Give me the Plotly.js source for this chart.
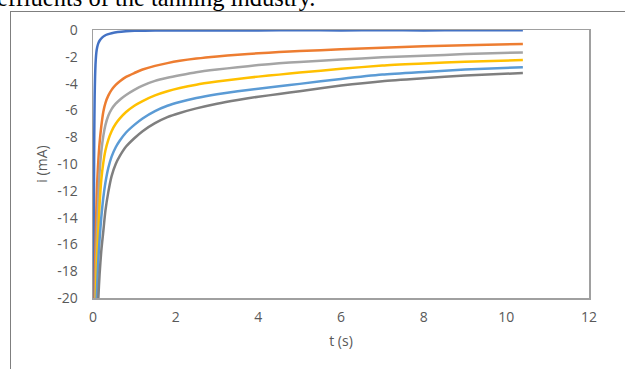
<!DOCTYPE html>
<html>
<head>
<meta charset="utf-8">
<script src="https://cdn.plot.ly/plotly-3.0.1.min.js"></script>
<style>
  html, body { margin: 0; padding: 0; width: 625px; height: 369px; overflow: hidden; background: #fff; }
  #caption { position: absolute; left: -3px; top: -14px; font-family: "Liberation Serif", "Times New Roman", serif; font-size: 24.5px; line-height: 24px; color: #000; white-space: nowrap; }
  #frame { position: absolute; left: 10px; top: 11px; width: 700px; height: 420px; border: 1px solid #7f7f7f; }
  #chart { position: absolute; left: 0; top: 0; width: 625px; height: 369px; }
</style>
</head>
<body>
<div id="frame"></div>
<div id="chart"></div>
<div id="caption">effluents of the tanning industry.</div>
<script>
// time (s) for the first (fast) curve
const tFast = [0.01, 0.015, 0.02, 0.03, 0.04, 0.05, 0.06, 0.08, 0.1, 0.13, 0.17, 0.22, 0.28, 0.35, 0.45, 0.6, 0.8, 1.0, 1.5, 2.0, 3.0, 4.0, 5.0, 6.0, 7.0, 8.0, 9.0, 10.4];
const iFast = [-24, -19, -14, -8, -5, -3.5, -2.6, -1.7, -1.3, -0.98, -0.75, -0.57, -0.43, -0.33, -0.24, -0.15, -0.09, -0.06, -0.04, -0.03, -0.03, -0.03, -0.02, -0.03, -0.02, -0.03, -0.02, -0.02];

// time (s) for the other curves
const tSlow = [0.03, 0.04, 0.05, 0.07, 0.09, 0.11, 0.13, 0.16, 0.2, 0.25, 0.3, 0.37, 0.45, 0.55, 0.65, 0.8, 1.0, 1.2, 1.5, 1.8, 2.1, 2.5, 3.0, 3.5, 4.0, 4.5, 5.0, 6.0, 7.0, 8.0, 9.0, 10.4];
const iOrange = [-26, -20, -17.5, -14.9, -12.3, -10.8, -9.7, -8.4, -7.2, -6.1, -5.45, -4.9, -4.47, -4.1, -3.83, -3.5, -3.21, -2.95, -2.68, -2.47, -2.3, -2.13, -1.97, -1.85, -1.74, -1.65, -1.57, -1.44, -1.32, -1.22, -1.13, -1.04];
const iGray   = [-30, -25, -21.5, -18.2, -15.8, -14.1, -12.6, -10.6, -9.1, -7.9, -7.1, -6.4, -5.9, -5.5, -5.2, -4.85, -4.47, -4.15, -3.8, -3.57, -3.38, -3.15, -2.95, -2.78, -2.62, -2.48, -2.38, -2.2, -2.04, -1.92, -1.8, -1.67];
const iYellow = [-34, -29, -25, -20, -17.5, -16, -14.9, -13.0, -11.2, -9.9, -9.0, -8.2, -7.55, -7.0, -6.6, -6.12, -5.65, -5.3, -4.88, -4.57, -4.33, -4.08, -3.85, -3.65, -3.48, -3.33, -3.18, -2.9, -2.65, -2.5, -2.37, -2.24];
const iLtBlue = [-38, -33, -29, -24, -20, -18.4, -17.1, -15.6, -14.0, -12.5, -11.4, -10.3, -9.45, -8.75, -8.25, -7.65, -7.08, -6.6, -6.05, -5.65, -5.37, -5.08, -4.8, -4.57, -4.38, -4.2, -4.02, -3.65, -3.33, -3.13, -2.95, -2.78];
const iDkGray = [-44, -38, -34, -29, -25, -22, -20, -18.2, -16.5, -15.0, -13.5, -12.1, -10.9, -10.0, -9.4, -8.7, -8.08, -7.55, -6.95, -6.5, -6.19, -5.85, -5.5, -5.22, -4.98, -4.78, -4.57, -4.15, -3.82, -3.6, -3.4, -3.21];

const xTicks = [0, 2, 4, 6, 8, 10, 12];
const yTicks = [0, -2, -4, -6, -8, -10, -12, -14, -16, -18, -20];

const series = [
  {x: tFast, y: iFast, color: '#4472C4'},
  {x: tSlow, y: iOrange, color: '#ED7D31'},
  {x: tSlow, y: iGray, color: '#A5A5A5'},
  {x: tSlow, y: iYellow, color: '#FFC000'},
  {x: tSlow, y: iLtBlue, color: '#5B9BD5'},
  {x: tSlow, y: iDkGray, color: '#7F7F7F'}
];

const traces = series.map(s => ({
  type: 'scatter', mode: 'lines', x: s.x, y: s.y,
  line: {color: s.color, width: 2.5, shape: 'spline', smoothing: 0.6},
  showlegend: false, hoverinfo: 'skip'
}));

const fam = '"Open Sans", "Noto Sans", sans-serif';
const tickFont = {family: fam, size: 14, color: '#595959'};

const layout = {
  width: 625, height: 369,
  margin: {l: 93, r: 36, t: 30, b: 71, pad: 0},
  paper_bgcolor: 'rgba(0,0,0,0)', plot_bgcolor: '#fff',
  xaxis: {
    range: [0, 12], tickvals: xTicks, ticktext: xTicks.map(String),
    showgrid: false, zeroline: false,
    showline: true, mirror: true, linecolor: '#A0A0A0', linewidth: 1.5,
    ticks: 'outside', ticklen: 6, tickcolor: 'rgba(0,0,0,0)',
    tickfont: tickFont,
    title: {text: 't (s)', font: {family: fam, size: 14, color: '#595959'}, standoff: 11}
  },
  yaxis: {
    range: [-20, 0], tickvals: yTicks, ticktext: yTicks.map(String),
    showgrid: false, zeroline: false,
    showline: true, mirror: true, linecolor: '#A0A0A0', linewidth: 1.5,
    ticks: 'outside', ticklen: 11, tickcolor: 'rgba(0,0,0,0)',
    tickfont: tickFont,
    title: {text: 'i (mA)', font: {family: fam, size: 14, color: '#595959'}, standoff: 6}
  }
};

Plotly.newPlot('chart', traces, layout, {staticPlot: true, displayModeBar: false});
</script>
</body>
</html>
